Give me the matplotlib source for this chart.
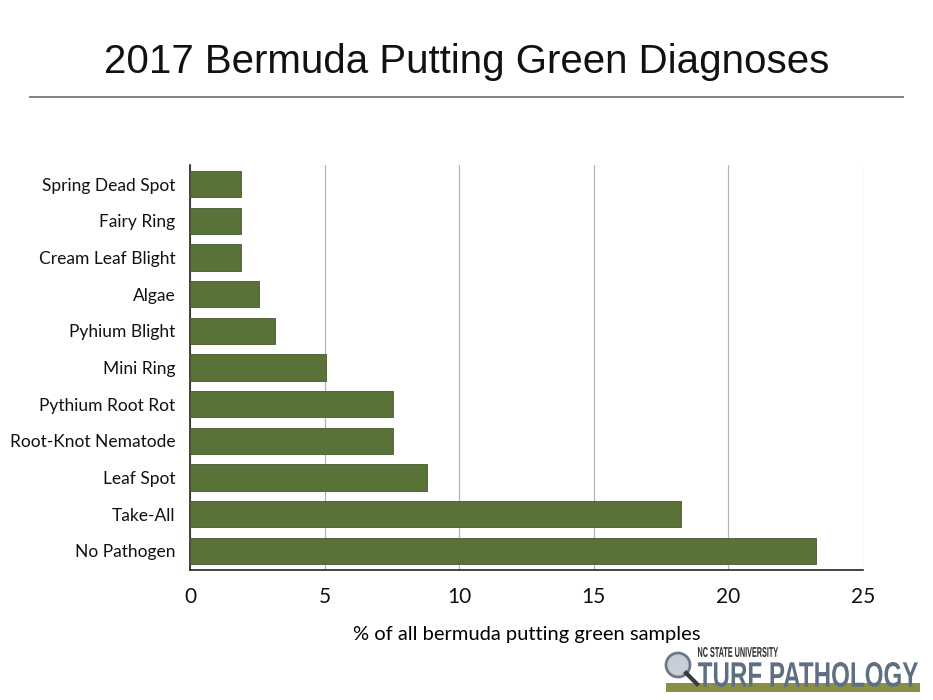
import matplotlib.pyplot as plt
from matplotlib.patches import Circle, PathPatch, Rectangle
from matplotlib.textpath import TextPath
from matplotlib.font_manager import FontProperties
from matplotlib.transforms import Affine2D, IdentityTransform

# data, top to bottom as in the chart
diagnoses = ["Spring Dead Spot", "Fairy Ring", "Cream Leaf Blight", "Algae",
             "Pyhium Blight", "Mini Ring", "Pythium Root Rot",
             "Root-Knot Nematode", "Leaf Spot", "Take-All", "No Pathogen"]
percent = [1.9, 1.9, 1.9, 2.55, 3.15, 5.05, 7.55, 7.55, 8.8, 18.25, 23.25]
xticks = [0, 5, 10, 15, 20, 25]

W, H = 933, 700
fig = plt.figure(figsize=(W / 100, H / 100), dpi=100)
fig.patch.set_facecolor("white")

# title and rule underneath
fig.text(0.5, 1 - 62 / H, "2017 Bermuda Putting Green Diagnoses", ha="center", va="center",
         fontsize=29, family="Liberation Sans", color="#111111")
fig.add_artist(plt.Line2D([30 / W, 903 / W], [1 - 97 / H] * 2,
                          color="#777777", lw=1.3))

ax = fig.add_axes([190 / W, 1 - 570 / H, 673 / W, 405 / H])
ypos = list(range(len(diagnoses)))[::-1]
ax.barh(ypos, percent, height=0.72, color="#587238", edgecolor="#46592c",
        linewidth=0.6, zorder=3)

ax.set_xlim(0, 25)
ax.set_ylim(-0.52, len(diagnoses) - 0.48)
ax.set_xticks(xticks)
ax.set_xticklabels([str(t) for t in xticks], fontsize=15, family="Lato")
ax.set_yticks(ypos)
ax.set_yticklabels(diagnoses, fontsize=12.5, family="Lato")
ax.tick_params(axis="both", length=0, colors="#111111")
ax.tick_params(axis="x", pad=12)
ax.tick_params(axis="y", pad=10.5)
ax.xaxis.grid(True, color="#b5b5b5", lw=0.9, zorder=0)
for s in ["top", "right"]:
    ax.spines[s].set_visible(False)
for s in ["left", "bottom"]:
    ax.spines[s].set_color("#222222")
    ax.spines[s].set_linewidth(1.2)
ax.set_xlabel("% of all bermuda putting green samples", fontsize=14.5,
              family="Lato", labelpad=14)


# logo in the corner, squeezed text drawn in pixel coords
def squeezed(txt, x0, y_top, w, h, color, weight="bold"):
    tp = TextPath((0, 0), txt, size=50,
                  prop=FontProperties(family="Liberation Sans", weight=weight))
    bb = tp.get_extents()
    tr = (Affine2D().translate(-bb.x0, -bb.y0)
          .scale(w / bb.width, h / bb.height)
          .translate(x0, H - y_top - h))
    fig.add_artist(PathPatch(tr.transform_path(tp), facecolor=color,
                             edgecolor="none", transform=IdentityTransform()))


fig.add_artist(Rectangle((666, H - 692), 254, 9, facecolor="#8a8f45",
                         edgecolor="none", transform=IdentityTransform()))
squeezed("NC STATE UNIVERSITY", 698, 647, 80, 10, "#2a2a2a")
squeezed("TURF PATHOLOGY", 698, 662, 220, 25, "#5f6f82")
fig.add_artist(plt.Line2D([686, 697], [H - 673, H - 684], color="#3a3a3a", lw=3,
                          transform=IdentityTransform()))
fig.add_artist(Circle((678, H - 665), 12, transform=IdentityTransform(),
                      facecolor="#c6ced8", edgecolor="#6a7889", lw=2))

fig.savefig("out.png", dpi=100, facecolor="white")
